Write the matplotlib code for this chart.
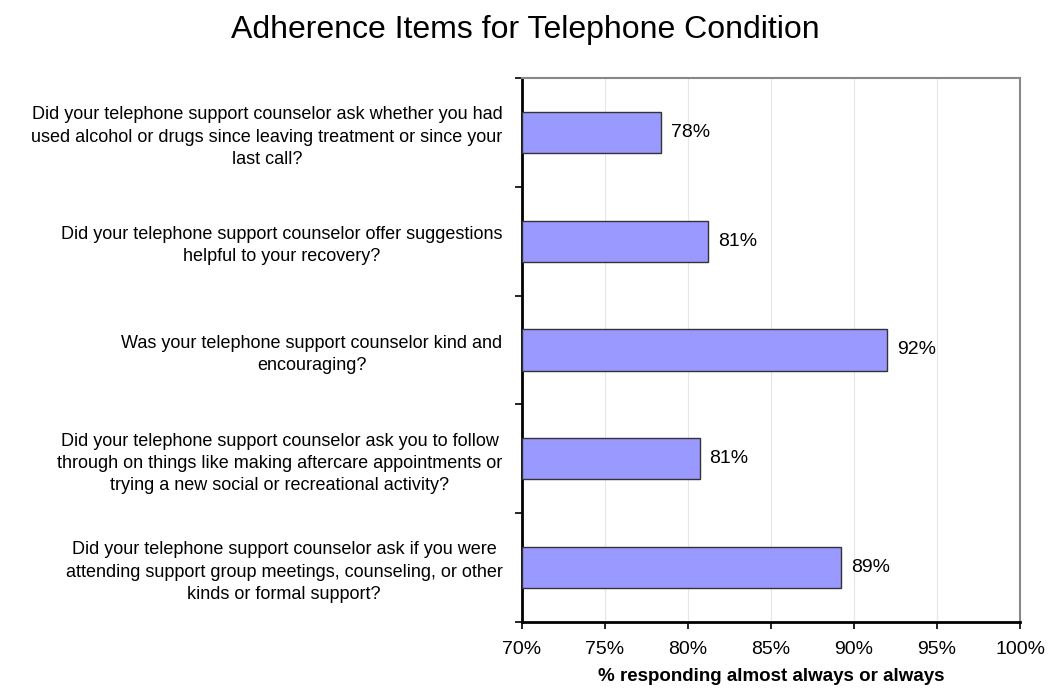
import numpy as np
import matplotlib
matplotlib.use('Agg')
import matplotlib.pyplot as plt
from matplotlib.ticker import FuncFormatter

plt.rcParams['font.family'] = ['Liberation Sans', 'DejaVu Sans']

questions = [
    'Did your telephone support counselor ask whether you had\n'
    'used alcohol or drugs since leaving treatment or since your\n'
    'last call?',
    'Did your telephone support counselor offer suggestions\n'
    'helpful to your recovery?',
    'Was your telephone support counselor kind and\n'
    'encouraging?',
    'Did your telephone support counselor ask you to follow\n'
    'through on things like making aftercare appointments or\n'
    'trying a new social or recreational activity?',
    'Did your telephone support counselor ask if you were\n'
    'attending support group meetings, counseling, or other\n'
    'kinds or formal support?',
]
values = [78.4, 81.2, 92.0, 80.7, 89.2]
labels = ['78%', '81%', '92%', '81%', '89%']
xticks = [70, 75, 80, 85, 90, 95, 100]

fig = plt.figure(figsize=(10.5, 6.91), dpi=100)
ax = fig.add_axes([522 / 1050, 1 - 622 / 691, (1020 - 522) / 1050, (622 - 78) / 691])

y = np.arange(len(values))
ax.barh(y, np.array(values) - 70, left=70, height=0.38,
        color='#9999ff', edgecolor='#333333', linewidth=1.0, zorder=3)

for yi, v, lab in zip(y, values, labels):
    ax.text(v + 0.6, yi, lab, va='center', ha='left', fontsize=14)

ax.set_xlim(70, 100)
ax.set_ylim(len(values) - 0.5, -0.5)
ax.set_xticks(xticks)
ax.xaxis.set_major_formatter(FuncFormatter(lambda v, p: '%d%%' % v))
ax.tick_params(axis='x', labelsize=14, length=5, width=1.2, pad=9, direction='out')
ax.grid(axis='x', color='#e6e6e6', linewidth=0.8, zorder=0)

ax.set_yticks(y)
ax.set_yticklabels(questions, fontsize=13, multialignment='center', linespacing=1.4)
ax.tick_params(axis='y', which='major', length=0, pad=14)
ax.set_yticks(np.arange(-0.5, len(values) + 0.5, 1), minor=True)
ax.tick_params(axis='y', which='minor', length=5, width=1.2, direction='out')

ax.spines['left'].set_linewidth(2)
ax.spines['bottom'].set_linewidth(2)
for s in ['top', 'right']:
    ax.spines[s].set_color('#888888')
    ax.spines[s].set_linewidth(1.5)

ax.set_xlabel('% responding almost always or always', fontsize=13.5,
              fontweight='bold', labelpad=7)
fig.text(0.5, 0.978, 'Adherence Items for Telephone Condition', ha='center',
         va='top', fontsize=23)

fig.savefig('out.png', dpi=100)
